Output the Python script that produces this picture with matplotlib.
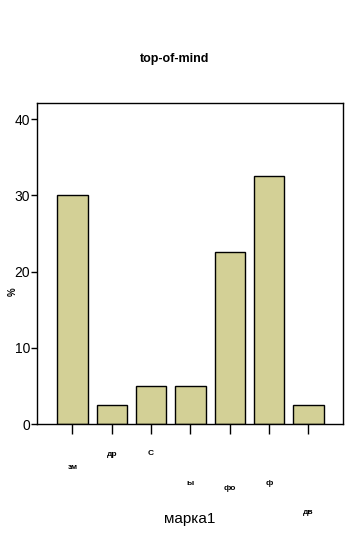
import matplotlib
matplotlib.use("Agg")
import matplotlib.pyplot as plt

# bar values (percent)
brands = ['зм', 'др', 'С', 'ы', 'фо', 'ф', 'дв']
percent = [30.0, 2.5, 5.0, 5.0, 22.5, 32.5, 2.5]
yticks = [0, 10, 20, 30, 40]

# vertical distance (px) of each garbled brand label below the axis
label_drop = [34, 21, 20, 50, 55, 50, 79]

plt.rcParams['font.family'] = ['Liberation Sans', 'DejaVu Sans']

fig = plt.figure(figsize=(3.5, 5.38), dpi=100)
W, H = 350, 538
ax = fig.add_axes([37 / W, 1 - 424 / H, 306 / W, 321 / H])

x = list(range(len(brands)))
ax.bar(x, percent, width=0.77, color='#d3d096', edgecolor='black', linewidth=1)

ax.set_xlim(-0.9, 6.88)
ax.set_ylim(0, 42.1)
ax.set_yticks(yticks)
ax.set_yticklabels([str(v) for v in yticks], fontsize=10)
ax.set_xticks(x)
ax.set_xticklabels(brands, fontsize=6, fontweight='bold', va='center')
ax.tick_params(axis='x', direction='out', length=7, width=1, pad=0)
ax.tick_params(axis='y', direction='out', length=4, width=1, pad=1)
for lab, d in zip(ax.get_xticklabels(), label_drop):
    lab.set_y(-d / 321)

for s in ax.spines.values():
    s.set_linewidth(1)
    s.set_color('black')

ax.set_xlabel('марка1', fontsize=11)
ax.xaxis.set_label_coords(0.5, -(519 - 424) / 321)
ax.xaxis.label.set_va('center')
ax.set_ylabel('%', fontsize=7, fontweight='bold')
ax.yaxis.set_label_coords(-(37 - 13) / 306, (424 - 292) / 321)
ax.yaxis.label.set_va('center')

fig.text(175 / W, 1 - 59 / H, 'top-of-mind', ha='center', va='center',
         fontsize=9, fontweight='bold')

fig.savefig('out.png', dpi=100, facecolor='white')
